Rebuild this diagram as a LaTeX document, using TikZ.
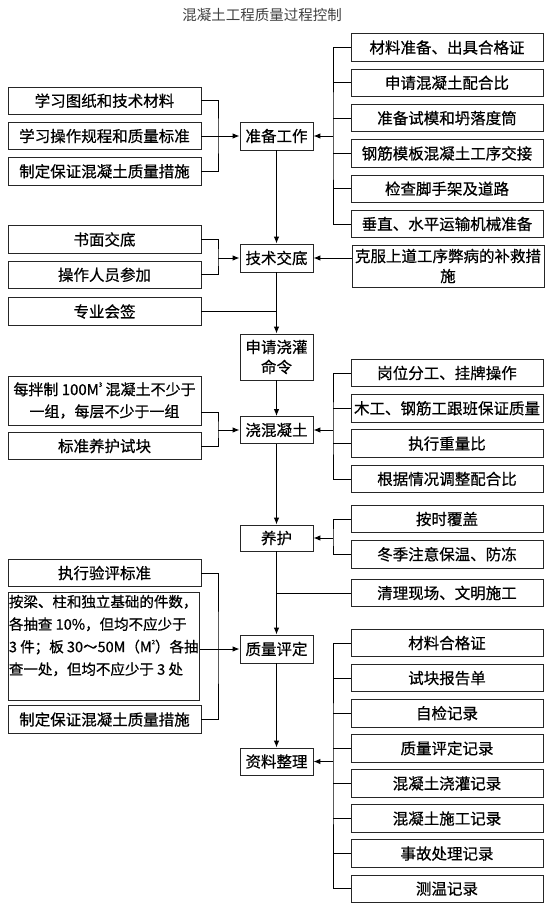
\documentclass[tikz,border=0pt]{standalone}
\usepackage{fontspec}
\setmainfont{Noto Sans CJK SC}
\newfontfamily\boxfont{Noto Sans CJK SC}[FakeBold=0.6]
\newcommand{\supsmall}[1]{\raisebox{0.55em}{\fontsize{6}{6}\selectfont #1}}
\usetikzlibrary{arrows.meta, positioning}

\begin{document}
\begin{tikzpicture}[
        x=1pt, y=-1pt,
        node distance = 7pt,
        stage/.style = {rectangle, draw=black!85, line width=0.8pt, minimum width=73pt, minimum height=28pt, inner sep=1pt, align=center, font=\boxfont\fontsize{15.5}{20}\selectfont},
        item/.style = {rectangle, draw=black!85, line width=0.8pt, minimum width=192pt, minimum height=27.5pt, inner sep=1pt, align=center, font=\boxfont\fontsize{15.5}{20}\selectfont},
        side/.style = {item, minimum width=193pt},
        arrow/.style = {-{Latex[length=7pt,width=5.5pt]}, line width=1pt},
        link/.style = {line width=0.8pt}
    ]
        \useasboundingbox (0,0) rectangle (555,905);

        % Title
        \node[font=\fontsize{14.5}{16}\selectfont, text=black!75] (title) at (262,15) {混凝土工程质量过程控制};

        % Main column
        \node[stage] (prep) at (276.5,136) {准备工作};
        \node[stage] (tech) at (276.5,258) {技术交底};
        \node[stage, minimum height=46pt] (apply) at (276.5,357) {申请浇灌\\命令};
        \node[stage, minimum height=27pt] (pour) at (276.5,430) {浇混凝土};
        \node[stage, minimum height=26pt] (cure) at (276.5,538) {养护};
        \node[stage] (eval) at (276.5,649) {质量评定};
        \node[stage, minimum height=27pt] (arch) at (276.5,761.5) {资料整理};

        % Left column
        \node[side] (rules) at (104.5,136) {学习操作规程和质量标准};
        \node[side, above=of rules] (learn) {学习图纸和技术材料};
        \node[side, below=of rules] (measA) {制定保证混凝土质量措施};
        \node[side] (written) at (104.5,239.5) {书面交底};
        \node[side, below=of written] (staff) {操作人员参加};
        \node[side] (sign) at (104.5,311.5) {专业会签};
        \node[side, minimum height=49pt, font=\boxfont\fontsize{15}{22}\selectfont] (batch) at (104.5,400.5) {每拌制 100M\supsmall{3} 混凝土不少于\\一组，每层不少于一组};
        \node[side] (cube) at (104.5,446) {标准养护试块};
        \node[side] (std) at (104.5,573) {执行验评标准};
        \node[side, minimum width=191.5pt, minimum height=108pt, align=left, font=\boxfont\fontsize{14.5}{22.5}\selectfont] (sample) at (103.75,646) {按梁、柱和独立基础的件数，\\各抽查 10\%，但均不应少于\\3 件；板 30～50M（M\supsmall{2}）各抽\\查一处，但均不应少于 3 处\\\mbox{}};
        \node[side] (measB) at (104.5,719.5) {制定保证混凝土质量措施};

        % Right column
        \node[item] (mat) at (447,47.5) {材料准备、出具合格证};
        \node[item, below=of mat] (mix) {申请混凝土配合比};
        \node[item, below=of mix] (mold) {准备试模和坍落度筒};
        \node[item, below=of mold] (hand) {钢筋模板混凝土工序交接};
        \node[item, below=of hand] (scaf) {检查脚手架及道路};
        \node[item, below=of scaf] (lift) {垂直、水平运输机械准备};
        \node[item, minimum height=42pt] (fix) at (448,266) {克服上道工序弊病的补救措\\施};
        \node[item] (post) at (447,373) {岗位分工、挂牌操作};
        \node[item, below=of post] (trade) {木工、钢筋工跟班保证质量};
        \node[item, below=of trade] (ratio) {执行重量比};
        \node[item, below=of ratio] (adjust) {根据情况调整配合比};
        \node[item] (cover) at (447,519) {按时覆盖};
        \node[item, below=of cover] (winter) {冬季注意保温、防冻};
        \node[item] (clean) at (447,593) {清理现场、文明施工};
        \node[item] (cert) at (447,643) {材料合格证};
        \node[item, below=6.8pt of cert] (report) {试块报告单};
        \node[item, below=6.8pt of report] (self) {自检记录};
        \node[item, below=6.8pt of self] (evalrec) {质量评定记录};
        \node[item, below=6.8pt of evalrec] (pourrec) {混凝土浇灌记录};
        \node[item, below=6.8pt of pourrec] (buildrec) {混凝土施工记录};
        \node[item, below=6.8pt of buildrec] (accid) {事故处理记录};
        \node[item, below=6.8pt of accid] (temp) {测温记录};

        % Junctions
        \coordinate (prepL) at (218,0 |- prep);
        \coordinate (prepR) at (333,0 |- prep);
        \coordinate (techL) at (218,0 |- tech);
        \coordinate (pourL) at (218,0 |- pour);
        \coordinate (pourR) at (333,0 |- pour);
        \coordinate (cureR) at (333,0 |- cure);
        \coordinate (evalL) at (218,0 |- eval);
        \coordinate (archR) at (333,0 |- arch);

        % Connections
        % Preparation
        \draw[link] (learn.east) -| (prepL) |- (measA.east);
        \draw[arrow] (rules.east) -- (prep.west);
        \draw[link] (mat.west) -| (prepR) |- (lift.west);
        \foreach \n in {mix, mold, hand, scaf}
            \draw[link] (\n.west) -- (\n.west -| prepR);
        \draw[arrow] (prepR) -- (prep.east);

        % Technical disclosure
        \draw[link] (written.east) -| (techL) |- (staff.east);
        \draw[arrow] (techL) -- (tech.west);
        \draw[arrow] (fix.west |- tech) -- (tech.east);
        \draw[link] (sign.east) -- (sign.east -| tech);

        % Pouring
        \draw[link] ([yshift=-11.5pt]batch.east) -| (pourL) |- (cube.east);
        \draw[arrow] (pourL) -- (pour.west);
        \draw[link] (post.west) -| (pourR) |- (adjust.west);
        \foreach \n in {trade, ratio}
            \draw[link] (\n.west) -- (\n.west -| pourR);
        \draw[arrow] (pourR) -- (pour.east);

        % Curing
        \draw[link] (cover.west) -| (cureR) |- (winter.west);
        \draw[arrow] (cureR) -- (cure.east);
        \draw[link] (clean.west) -- (clean.west -| cure);

        % Evaluation
        \draw[link] (std.east) -| (evalL) |- (measB.east);
        \draw[arrow] (sample.east |- eval) -- (eval.west);

        % Archive
        \draw[link] (cert.west) -| (archR) |- (temp.west);
        \foreach \n in {report, self, evalrec, pourrec, buildrec, accid}
            \draw[link] (\n.west) -- (\n.west -| archR);
        \draw[arrow] (archR) -- (arch.east);

        % Main line
        \draw[arrow] (prep) -- (tech);
        \draw[arrow] (tech) -- (apply);
        \draw[arrow] (apply) -- (pour);
        \draw[arrow] (pour) -- (cure);
        \draw[arrow] (cure) -- (eval);
        \draw[arrow] (eval) -- (arch);

\end{tikzpicture}
\end{document}
